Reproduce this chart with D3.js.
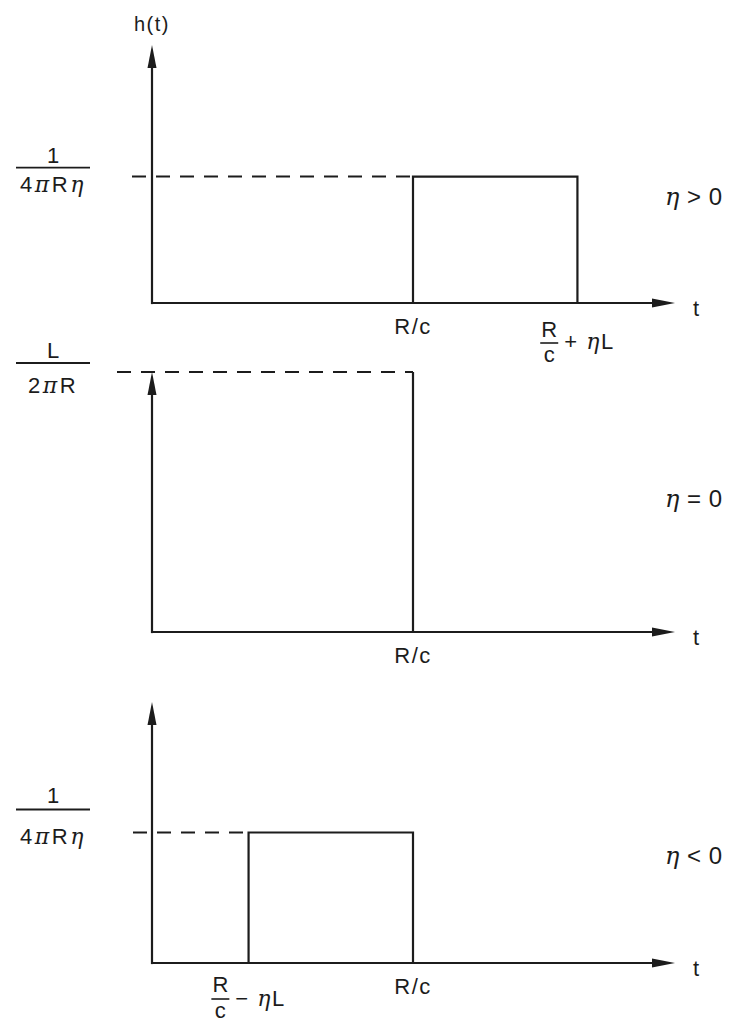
<!DOCTYPE html>
<html>
<head>
<meta charset="utf-8">
<script src="https://cdn.jsdelivr.net/npm/d3@7"></script>
<style>
  body { margin: 0; background: #fff; }
  svg text { font-family: "Liberation Sans", Arial, Helvetica, sans-serif; fill: #1c1c1c; }
  .greek { font-family: "DejaVu Serif", "Liberation Serif", serif; font-style: italic; }
</style>
</head>
<body>
<svg id="chart" width="731" height="1026"></svg>
<script>
// cases, top to bottom
const cases = ['η > 0', 'η = 0', 'η < 0'];
// pulse edges, t in units of R/c
const pulseStart = [1, 0, 0.37];
const pulseEnd = [1.63, 1, 1];
// pulse level as a share of the drawn h axis
const pulseLevel = [0.49, 1, 0.5];
// where the dashed level line stops (t)
const dashEnd = [1, 1, 0.37];
// level labels (fraction)
const levelNum = ['1', 'L', '1'];
const levelDen = ['4πRη', '2πR', '4πRη'];
// t axis labels: position and text ("num|den|suffix" for fractions)
const tickPos = [[1, 1.63], [1], [0.37, 1]];
const tickText = [['R/c', 'R|c|+ ηL'], ['R/c'], ['R|c|− ηL', 'R/c']];

const svg = d3.select('#chart');
const ink = '#1c1c1c';

const x = d3.scaleLinear().domain([0, 2]).range([152, 674]);
const bands = [[303, 45], [632, 372], [963, 702]];
const dashStartOff = [20, 35, 19];
const caseY = [205, 507, 864];
// fraction layout offsets from the level line: [num baseline, bar, den baseline]
const fracOff = [[-14, -9, 15], [-14, -9, 21], [-30, -23, 11]];
// fraction tick label offsets from the label baseline: [num, bar, den, suffix]
const tickFracOff = [[3, 9, 28, 15], null, [-2, 5, 24, 12]];

// writes a string, putting greek letters in their own italic face
function rich(sel, str) {
  const parts = str.match(/[πη]+|[^πη]+/g) || [];
  parts.forEach(p => {
    const t = sel.append('tspan').text(p);
    if (/[πη]/.test(p)) t.attr('class', 'greek');
  });
  return sel;
}

function arrow(g, tx, ty, dir) {
  const len = 23, hw = 4.5;
  let pts;
  if (dir === 'up') pts = [[tx, ty], [tx - hw, ty + len], [tx + hw, ty + len]];
  else pts = [[tx, ty], [tx - len, ty - hw], [tx - len, ty + hw]];
  g.append('path')
    .attr('d', 'M' + pts.map(p => p.join(',')).join('L') + 'Z')
    .attr('fill', ink);
}

cases.forEach((c, i) => {
  const y = d3.scaleLinear().domain([0, 1]).range(bands[i]);
  const g = svg.append('g');
  const lvl = y(pulseLevel[i]);

  // t axis
  g.append('line')
    .attr('x1', x(0)).attr('y1', y(0))
    .attr('x2', x(2) - 15).attr('y2', y(0))
    .attr('stroke', ink).attr('stroke-width', 2.2);
  arrow(g, x(2) + 1, y(0), 'right');

  // h axis
  g.append('line')
    .attr('x1', x(0)).attr('y1', y(0) + 1.1)
    .attr('x2', x(0)).attr('y2', y(1) + 15)
    .attr('stroke', ink).attr('stroke-width', 2.2);
  arrow(g, x(0), y(1), 'up');

  // dashed level line
  g.append('line')
    .attr('x1', x(0) - dashStartOff[i]).attr('y1', lvl)
    .attr('x2', x(dashEnd[i])).attr('y2', lvl)
    .attr('stroke', ink).attr('stroke-width', 2)
    .attr('stroke-dasharray', '14,10');

  // pulse
  const s = pulseStart[i], e = pulseEnd[i];
  let d;
  if (s > 0) d = `M${x(s)},${y(0)}V${lvl}H${x(e)}V${y(0)}`;
  else d = `M${x(e)},${lvl}V${y(0)}`;
  g.append('path').attr('d', d)
    .attr('fill', 'none').attr('stroke', ink).attr('stroke-width', 2.2);

  // level label
  const fo = fracOff[i];
  g.append('text').attr('x', 53).attr('y', lvl + fo[0])
    .attr('text-anchor', 'middle').attr('font-size', 22)
    .text(levelNum[i]);
  g.append('line')
    .attr('x1', 16).attr('x2', 90)
    .attr('y1', lvl + fo[1]).attr('y2', lvl + fo[1])
    .attr('stroke', ink).attr('stroke-width', 1.8);
  rich(g.append('text').attr('x', 53).attr('y', lvl + fo[2])
    .attr('text-anchor', 'middle').attr('font-size', 22)
    .attr('letter-spacing', 2.5), levelDen[i]);

  // t labels
  tickPos[i].forEach((p, k) => {
    const txt = tickText[i][k];
    const tx = x(p), base = y(0) + 31;
    if (txt.indexOf('|') < 0) {
      g.append('text').attr('x', tx).attr('y', base)
        .attr('text-anchor', 'middle').attr('font-size', 22)
        .attr('letter-spacing', 1.5)
        .text(txt);
    } else {
      const [num, den, suf] = txt.split('|');
      const off = tickFracOff[i];
      const lg = g.append('g');
      const sufT = rich(lg.append('text').attr('y', base + off[3])
        .attr('font-size', 22).attr('letter-spacing', 1.5), suf);
      const sw = sufT.node().getComputedTextLength();
      const fw = 18;
      const total = fw + 6 + sw;
      const left = tx - total / 2;
      lg.append('text').attr('x', left + fw / 2).attr('y', base + off[0])
        .attr('text-anchor', 'middle').attr('font-size', 22).text(num);
      lg.append('line').attr('x1', left).attr('x2', left + fw)
        .attr('y1', base + off[1]).attr('y2', base + off[1])
        .attr('stroke', ink).attr('stroke-width', 1.6);
      lg.append('text').attr('x', left + fw / 2).attr('y', base + off[2])
        .attr('text-anchor', 'middle').attr('font-size', 22).text(den);
      sufT.attr('x', left + fw + 6);
    }
  });

  // t symbol
  g.append('text').attr('x', x(2) + 19).attr('y', y(0) + 13)
    .attr('font-size', 22).text('t');

  // case label
  rich(g.append('text').attr('x', 665).attr('y', caseY[i])
    .attr('font-size', 24).attr('letter-spacing', 0.5), c);
});

// h(t) axis title
svg.append('text').attr('x', x(0)).attr('y', 31)
  .attr('text-anchor', 'middle').attr('font-size', 20)
  .attr('letter-spacing', 1.5)
  .text('h(t)');
</script>
</body>
</html>
